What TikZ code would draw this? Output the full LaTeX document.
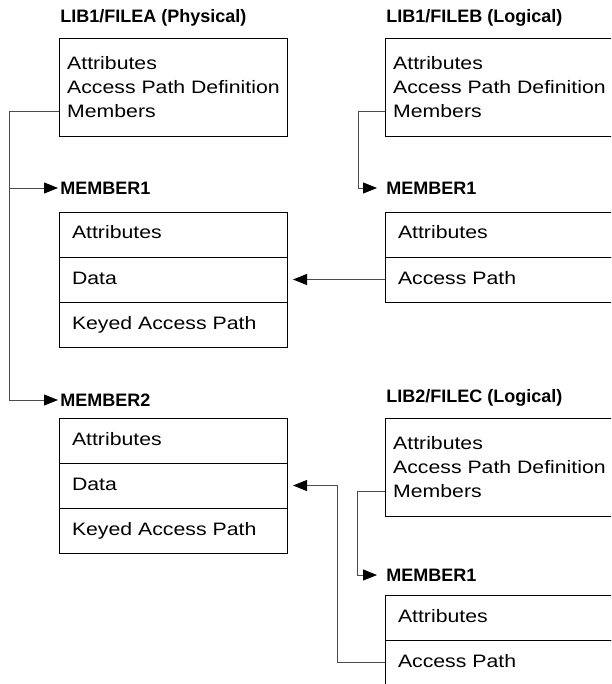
\documentclass[tikz,border=0pt]{standalone}
\usepackage{fontspec}
\setmainfont{Liberation Sans}
\newfontfamily\boxfont{Liberation Sans}[FakeStretch=1.18]
\usetikzlibrary{arrows.meta, positioning}

\tikzset{
    filetitle/.style={anchor=base west, inner sep=0pt, font=\bfseries\fontsize{18}{22}\selectfont},
    memberhead/.style={anchor=west, inner sep=0pt, font=\bfseries\fontsize{18}{22}\selectfont},
    filebox/.style={draw, anchor=north west, minimum width=228pt, minimum height=98pt,
        inner xsep=7.5pt, align=left, font=\boxfont\fontsize{18}{24}\selectfont},
    cell/.style={draw, minimum width=228pt, minimum height=45pt, text width=202pt,
        inner xsep=13pt, inner ysep=0pt, outer sep=0pt, align=left,
        text height=13pt, text depth=4pt, font=\boxfont\fontsize{18}{24}\selectfont},
    link/.style={draw=black!70, line width=0.8pt},
    into/.style={link, -{Triangle[length=14pt,width=11pt,color=black]}}
}

\begin{document}
\begin{tikzpicture}[x=1pt, y=-1pt, line width=0.9pt]
    \useasboundingbox (0,0) rectangle (611,684);
    \clip (0,0) rectangle (611,684);

    % physical file and its members
    \node[filetitle] (titlea) at (60,23) {LIB1/FILEA (Physical)};
    \node[filebox] (filea) at (59,38) {Attributes\\Access Path Definition\\Members};

    \node[memberhead] (m1head) at (60,188) {MEMBER1};
    \node[cell, anchor=north west] (m1attr) at (59,212) {Attributes};
    \node[cell, below=0pt of m1attr] (m1data) {Data};
    \node[cell, below=0pt of m1data] (m1key) {Keyed Access Path};

    \node[memberhead] (m2head) at (60,400) {MEMBER2};
    \node[cell, anchor=north west] (m2attr) at (59,418) {Attributes};
    \node[cell, below=0pt of m2attr] (m2data) {Data};
    \node[cell, below=0pt of m2data] (m2key) {Keyed Access Path};

    % logical file B
    \node[filetitle] (titleb) at (386,23) {LIB1/FILEB (Logical)};
    \node[filebox] (fileb) at (385,38) {Attributes\\Access Path Definition\\Members};
    \node[memberhead] (bhead) at (386,188) {MEMBER1};
    \node[cell, anchor=north west] (battr) at (385,212) {Attributes};
    \node[cell, below=0pt of battr] (bacc) {Access Path};

    % logical file C
    \node[filetitle] (titlec) at (386,402) {LIB2/FILEC (Logical)};
    \node[filebox] (filec) at (385,418) {Attributes\\Access Path Definition\\Members};
    \node[memberhead] (chead) at (386,575) {MEMBER1};
    \node[cell, anchor=north west] (cattr) at (385,595) {Attributes};
    \node[cell, below=0pt of cattr] (cacc) {Access Path};

    % connectors
    \coordinate (aout) at ([yshift=-24pt]filea.west);
    \coordinate (bout) at ([yshift=-24pt]fileb.west);
    \coordinate (cout) at ([yshift=-24pt]filec.west);
    \coordinate (trunka) at (9,0);
    \coordinate (trunkb) at (358,0);
    \coordinate (trunkc) at (357,0);
    \coordinate (backc) at (337,0);

    \draw[into, shorten >=2pt] (aout) -- (aout -| trunka) |- (m2head.west);
    \draw[into, shorten >=2pt] (m1head.west -| trunka) -- (m1head.west);
    \draw[into, shorten >=9pt] (bout) -- (bout -| trunkb) |- (bhead.west);
    \draw[into, shorten >=9pt] (cout) -- (cout -| trunkc) |- (chead.west);

    \draw[into, shorten >=6pt] (bacc.west) -- (m1data.east);
    \draw[into, shorten >=6pt] (cacc.west) -- (cacc.west -| backc) |- (m2data.east);
\end{tikzpicture}
\end{document}
